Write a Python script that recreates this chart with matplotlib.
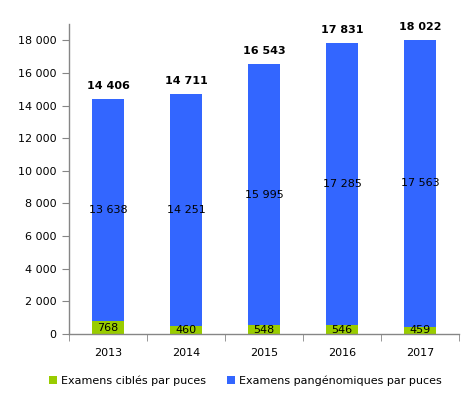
import matplotlib
matplotlib.use("Agg")
import matplotlib.pyplot as plt
from matplotlib.ticker import FuncFormatter, FixedLocator

years = ["2013", "2014", "2015", "2016", "2017"]
cibles = [768, 460, 548, 546, 459]
pangenomiques = [13638, 14251, 15995, 17285, 17563]
totals = [14406, 14711, 16543, 17831, 18022]

green = "#99CC00"
blue = "#3366FF"

def fmt(v):
    return f"{int(v):,}".replace(",", " ")

fig = plt.figure(figsize=(4.73, 3.99), dpi=100)
ax = fig.add_axes([0.1459, 0.1629, 0.9704 - 0.1459, 0.9398 - 0.1629])

x = list(range(len(years)))
w = 0.4
b1 = ax.bar(x, cibles, w, color=green, label="Examens ciblés par puces")
b2 = ax.bar(x, pangenomiques, w, bottom=cibles, color=blue, label="Examens pangénomiques par puces")

for i in x:
    ax.text(i, cibles[i] / 2, fmt(cibles[i]), ha="center", va="center", fontsize=8, color="black")
    ax.text(i, cibles[i] + pangenomiques[i] / 2, fmt(pangenomiques[i]), ha="center", va="center", fontsize=8, color="black")
    ax.text(i, totals[i] + 500, fmt(totals[i]), ha="center", va="bottom", fontsize=8, fontweight="bold", color="black")

ax.set_ylim(0, 19000)
ax.set_xlim(-0.5, len(years) - 0.5)
ax.set_yticks(range(0, 18001, 2000))
ax.yaxis.set_major_formatter(FuncFormatter(lambda v, p: fmt(v)))
ax.set_xticks(x)
ax.set_xticklabels(years)
ax.xaxis.set_minor_locator(FixedLocator([i - 0.5 for i in range(len(years) + 1)]))
ax.tick_params(axis="x", which="major", length=0, pad=10, labelsize=8)
ax.tick_params(axis="x", which="minor", length=5, color="#868686")
ax.tick_params(axis="y", which="major", length=5, color="#868686", labelsize=8, pad=4)

for s in ["top", "right"]:
    ax.spines[s].set_visible(False)
for s in ["left", "bottom"]:
    ax.spines[s].set_color("#868686")
    ax.spines[s].set_linewidth(1.0)

fig.legend(handles=[b1, b2], loc="center", bbox_to_anchor=(0.519, 0.046), ncol=2, frameon=False,
           fontsize=8, handlelength=0.7, handleheight=0.7, columnspacing=1.9, handletextpad=0.4)

fig.savefig("out.png", dpi=100)
